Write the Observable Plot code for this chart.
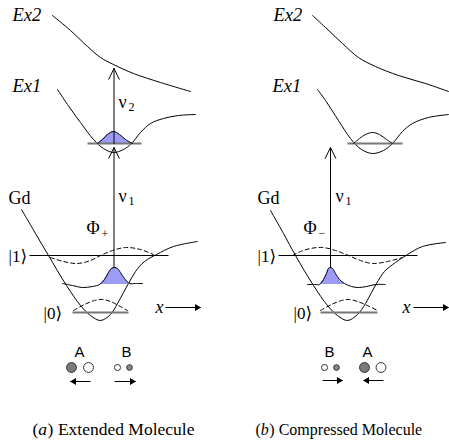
<!DOCTYPE html>
<html><head><meta charset="utf-8">
<script src="https://cdn.jsdelivr.net/npm/d3@7"></script>
<script src="https://cdn.jsdelivr.net/npm/@observablehq/plot@0.6"></script>
<style>body{margin:0;background:#fff}#chart svg{display:block}</style>
</head><body><div id="chart"></div>
<script>
// ---------- curve points (diagram units = pixels) ----------
// panel (a) extended molecule
const ex2A = [[52,15],[70,30],[87,46],[100,57],[113,64],[133,73],[160,82],[190,91]];
const ex1A = [[57,89],[67,104],[80,122],[93,139],[103,148],[113,152],[123,149],[131,143],[140,132],[150,123],[163,118],[178,115],[195,114]];
const gdA  = [[21,209],[35,233],[48,255],[66,285],[80,305],[90,315],[100,320],[110,314],[117,303],[123,292],[128,283],[135,271],[144,261],[156,254],[173,246],[197,241]];
const tailLA = [[62,283],[72,285],[82,287],[92,286]];
const gaussA = [[99,284],[104,279],[108,272],[111,268],[114,267],[117,268],[120,272],[124,278],[129,283]];
const tailRA = [[135,283],[142,283]];
const dash1A = [[50,257],[63,261],[77,263],[90,260],[100,255],[112,250],[125,247],[140,249],[153,254]];
const dash0A = [[73,310],[84,304],[94,300],[102,299],[110,301],[118,305],[127,310]];
const ex1GaussA = [[97,143],[102,139],[107,134],[113,131],[119,134],[125,139],[132,143]];
// panel (b) compressed molecule
const ex2B = [[312,15],[325,27],[342,43],[358,57],[375,66],[398,75],[425,83],[448,91]];
const ex1B = [[317,89],[325,100],[338,120],[350,138],[361,149],[372,153],[383,150],[392,143],[402,131],[412,123],[428,117],[448,114]];
const gdB  = [[270,210],[283,233],[295,255],[313,285],[327,305],[337,315],[347,320],[357,314],[365,303],[371,292],[376,283],[384,271],[395,262],[407,254],[422,246],[445,242]];
const tailLB = [[307,284],[314,284]];
const gaussB = [[319,284],[323,279],[326,273],[328,268],[330,267],[332,268],[335,273],[339,279],[344,283]];
const tailRB = [[351,286],[358,287],[366,286],[375,284],[385,284]];
const dash1B = [[292,255],[300,251],[310,248],[322,247],[335,250],[348,255],[360,260],[372,263],[387,261],[402,257]];
const dash0B = [[320,310],[331,304],[341,300],[349,299],[357,301],[367,305],[377,310]];
const ex1BumpB = [[353,143],[359,138],[365,134],[372,132],[379,134],[386,139],[392,143]];

// levels
const blackLevels = [{x1:29,x2:168,y:255},{x1:278,x2:417,y:255}];
const grayLevels  = [{x1:87,x2:141,y:143},{x1:347,x2:402,y:143},{x1:72,x2:128,y:312},{x1:320,x2:377,y:312}];
const gaussBase = 284;
const ex1Base = 143;

// transitions
const nuArrows = [{x:113.5,y1:143,y2:68},{x:113.5,y1:267,y2:147},{x:330,y1:267,y2:147}];
const rightArrows = [{x1:165,x2:200,y:307},{x1:413,x2:448,y:307},{x1:114,x2:135,y:381},{x1:322,x2:342,y:380}];
const leftArrows  = [{x1:90,x2:70,y:381},{x1:383,x2:363,y:380}];

// atoms
const atoms = [
  {x:71,y:367,r:6,kind:"dark"},{x:88,y:367,r:6,kind:"open"},
  {x:117,y:367,r:2.3,kind:"open"},{x:129,y:367,r:2,kind:"dark"},
  {x:324,y:367,r:2.3,kind:"open"},{x:336,y:367,r:2,kind:"dark"},
  {x:364,y:367,r:6,kind:"dark"},{x:380.5,y:367,r:6,kind:"open"}
];

// texts
const italicLabels = [{x:12,y:20,t:"Ex2"},{x:12,y:91,t:"Ex1"},{x:273,y:20,t:"Ex2"},{x:272,y:91,t:"Ex1"}];
const gdLabels = [{x:8,y:203,t:"Gd"},{x:257,y:203,t:"Gd"}];
const greekLabels = [{x:118,y:107,t:"ν"},{x:118,y:201,t:"ν"},{x:335,y:201,t:"ν"},{x:86,y:233,t:"Φ"},{x:303,y:233,t:"Φ"}];
const subLabels = [{x:128,y:110,t:"2"},{x:128,y:204,t:"1"},{x:345,y:204,t:"1"},{x:101,y:237,t:"+"},{x:318,y:236,t:"−"}];
const ketLabels = [{x:8,y:261,t:"|1⟩"},{x:257,y:261,t:"|1⟩"},{x:43,y:318,t:"|0⟩"},{x:293,y:318,t:"|0⟩"}];
const xLabels = [{x:155,y:312,t:"x"},{x:402,y:312,t:"x"}];
const atomLabels = [{x:79,y:356,t:"A"},{x:126,y:356,t:"B"},{x:329,y:356,t:"B"},{x:367,y:356,t:"A"}];
const captions = [
  {x:32,y:434,label:"a",rest:"Extended Molecule",size:17.5},
  {x:255,y:434,label:"b",rest:"Compressed Molecule",size:16}
];

// ---------- marks ----------
const px = d => d[0], py = d => d[1];
const SERIF = "Liberation Serif, DejaVu Serif, serif";
function curve(pts, opts = {}) {
  return Plot.line(pts, {x: px, y: py, curve: "catmull-rom", stroke: "black", strokeWidth: 1, ...opts});
}
function packet(pts, base) {
  return Plot.areaY(pts, {x: px, y1: base, y2: py, curve: "catmull-rom", fill: "#9c9cf4"});
}
function captionMarks(c) {
  const s = c.size, d = [c];
  const o = {x: "x", y: "y", fontSize: s, fontFamily: SERIF, textAnchor: "start", lineAnchor: "bottom", fill: "black"};
  return [
    Plot.text(d, {...o, text: () => "("}),
    Plot.text(d, {...o, text: "label", fontStyle: "italic", dx: 0.333 * s}),
    Plot.text(d, {...o, text: () => ")", dx: 0.86 * s}),
    Plot.text(d, {...o, text: "rest", dx: 1.45 * s})
  ];
}
const txt = (data, opts) => Plot.text(data, {x: "x", y: "y", text: "t", textAnchor: "start", lineAnchor: "bottom", fill: "black", fontFamily: SERIF, ...opts});

const svg = Plot.plot({
  width: 449, height: 447, margin: 0,
  x: {domain: [0, 449], range: [0, 449], axis: null},
  y: {domain: [0, 447], range: [0, 447], axis: null},
  style: {background: "white", overflow: "visible"},
  marks: [
    // excited state curves
    curve(ex2A), curve(ex1A), curve(ex2B), curve(ex1B),
    // ground state curves
    curve(gdA), curve(gdB),
    // filled wave packets
    packet(ex1GaussA, ex1Base), packet(gaussA, gaussBase), packet(gaussB, gaussBase),
    // levels
    Plot.link(grayLevels, {x1: "x1", x2: "x2", y1: "y", y2: "y", stroke: "#777", strokeWidth: 2}),
    Plot.link(blackLevels, {x1: "x1", x2: "x2", y1: "y", y2: "y", stroke: "black", strokeWidth: 1}),
    // wave functions
    curve(ex1GaussA), curve(ex1BumpB),
    curve([...tailLA, ...gaussA, ...tailRA]),
    curve([...tailLB, ...gaussB, ...tailRB]),
    curve(dash1A, {strokeDasharray: "4,3"}), curve(dash1B, {strokeDasharray: "4,3"}),
    curve(dash0A, {strokeDasharray: "4,3"}), curve(dash0B, {strokeDasharray: "4,3"}),
    // transitions
    Plot.arrow(nuArrows, {x1: "x", x2: "x", y1: "y1", y2: "y2", stroke: "black", strokeWidth: 1, headLength: 18, headAngle: 52}),
    // small arrows
    Plot.link(rightArrows, {x1: "x1", x2: "x2", y1: "y", y2: "y", stroke: "black", strokeWidth: 1}),
    Plot.link(leftArrows, {x1: "x1", x2: "x2", y1: "y", y2: "y", stroke: "black", strokeWidth: 1}),
    Plot.dot(rightArrows, {x: "x2", y: "y", symbol: "triangle", r: 2.6, rotate: 90, dx: -3.5, fill: "black", stroke: "none"}),
    Plot.dot(leftArrows, {x: "x2", y: "y", symbol: "triangle", r: 2.6, rotate: -90, dx: 3.5, fill: "black", stroke: "none"}),
    // atoms
    Plot.dot(atoms, {x: "x", y: "y", r: "r", fill: d => d.kind === "dark" ? (d.r > 4 ? "#7a7a7a" : "#888888") : "#ffffff", stroke: "#333", strokeWidth: 1}),
    // labels
    txt(italicLabels, {fontSize: 18.5, fontStyle: "italic"}),
    txt(gdLabels, {fontSize: 18}),
    txt(greekLabels, {fontSize: 18}),
    txt(subLabels, {fontSize: 12}),
    txt(ketLabels, {fontSize: 17}),
    txt(xLabels, {fontSize: 18, fontStyle: "italic"}),
    txt(atomLabels, {fontSize: 15, fontFamily: "Liberation Sans, Arial, sans-serif", textAnchor: "middle"}),
    ...captions.flatMap(captionMarks)
  ]
});
document.getElementById("chart").appendChild(svg);
</script>
</body></html>
